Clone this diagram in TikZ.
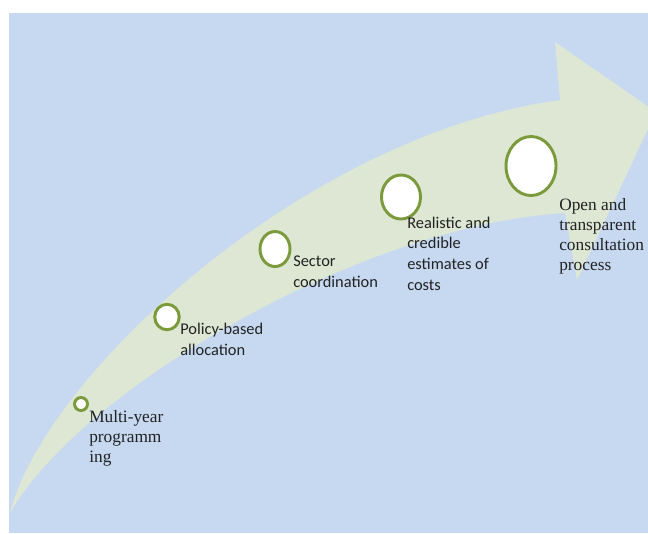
\documentclass[tikz,border=0pt]{standalone}
\usepackage{fontspec}
\setmainfont{Liberation Serif}
\newfontfamily\calibrifont{Carlito}
\usetikzlibrary{shapes.geometric}
\definecolor{bgblue}{HTML}{C6D9F1}
\definecolor{arrowfill}{HTML}{DDE7D3}
\definecolor{ringgreen}{HTML}{7A9A3C}
\definecolor{txtcol}{HTML}{222222}
\begin{document}
\begin{tikzpicture}[x=0.75pt,y=-0.75pt,
  ring/.style={ellipse, draw=ringgreen, line width=2.2pt, fill=white, inner sep=0pt},
  seriflabel/.style={anchor=base west, align=left, inner sep=0pt, text=txtcol,
    font=\fontsize{13}{15}\selectfont},
  sanslabel/.style={anchor=base west, align=left, inner sep=0pt, text=txtcol,
    font=\calibrifont\fontsize{12.3}{15.4}\selectfont}]
\useasboundingbox (0,0) rectangle (648,533);
\begin{scope}
\clip (9,13) rectangle (648,533);
\fill[bgblue] (9,13) rectangle (648,533);
\fill[arrowfill] (10,513) .. controls (45,375) and (305,135) .. (560,100)
  -- (555,42) -- (656,112) -- (577,280) -- (565,213)
  .. controls (360,225) and (80,390) .. (10,513) -- cycle;
\end{scope}
% rings
\node[ring, minimum width=9.75pt, minimum height=9.75pt] (c1) at (81,404) {};
\node[ring, minimum width=18.4pt, minimum height=19.1pt] (c2) at (167,317) {};
\node[ring, minimum width=22.5pt, minimum height=26.25pt] (c3) at (275,249) {};
\node[ring, minimum width=29.25pt, minimum height=33pt] (c4) at (401,197) {};
\node[ring, minimum width=37.5pt, minimum height=44.25pt] (c5) at (531,166) {};
% labels (anchor = baseline of the last line)
\node[seriflabel] (t1) at (89,462) {Multi-year\\programm\\ing};
\node[sanslabel] (t2) at (180,355.5) {Policy-based\\allocation};
\node[sanslabel] (t3) at (293,287.5) {Sector\\coordination};
\node[sanslabel] (t4) at (407,290) {Realistic and\\credible\\estimates of\\costs};
\node[seriflabel] (t5) at (559,270) {Open and\\transparent\\consultation\\process};
\end{tikzpicture}
\end{document}
